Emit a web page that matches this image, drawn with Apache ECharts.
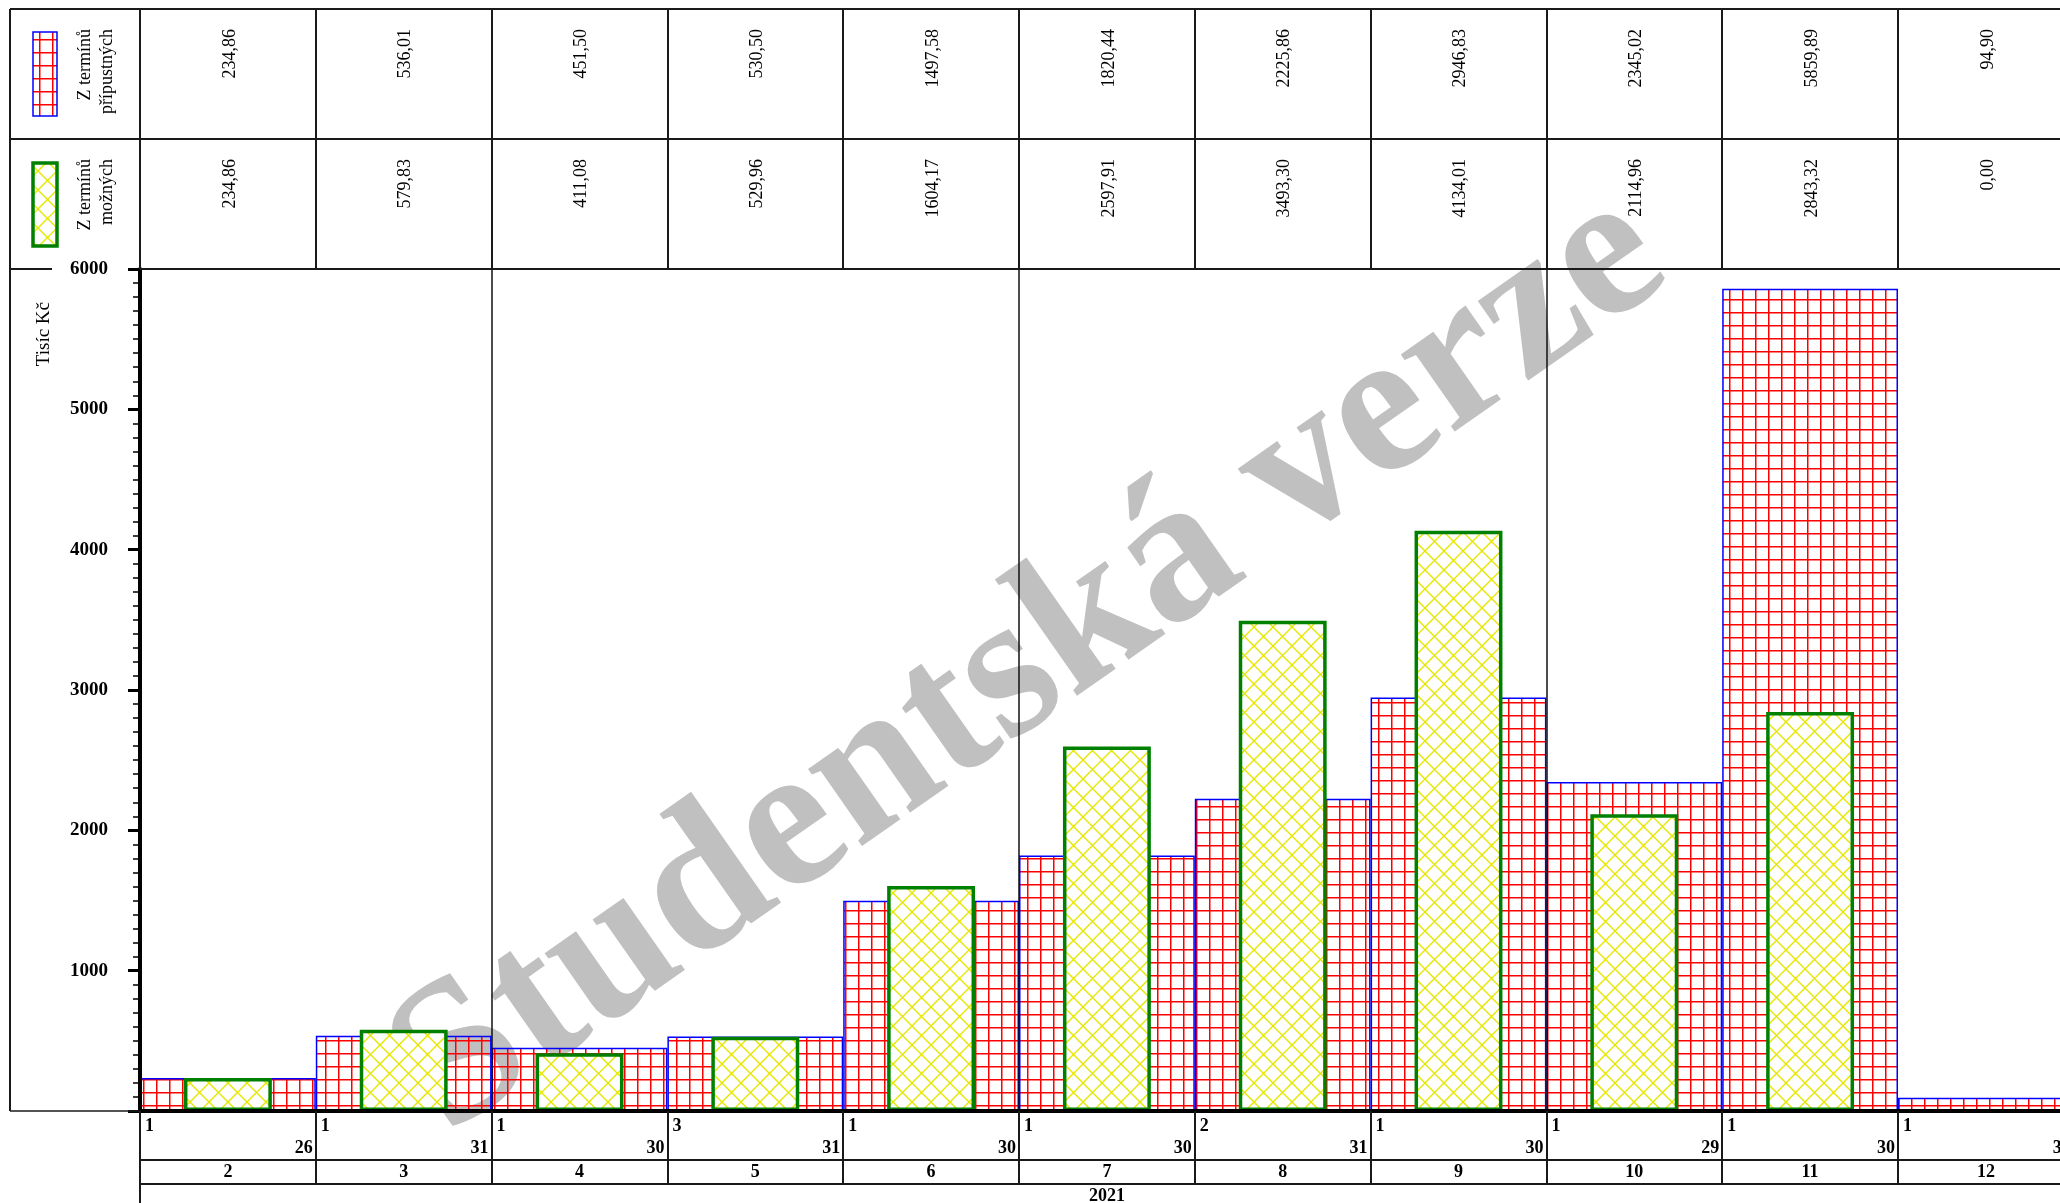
<!DOCTYPE html>
<html><head><meta charset="utf-8">
<script src="https://cdn.jsdelivr.net/npm/echarts@6/dist/echarts.min.js"></script>
<style>html,body{margin:0;padding:0;background:#fff;}#c{width:2060px;height:1203px;}</style>
</head><body><div id="c"></div>
<script>
// ---- data ----
const months = ['2','3','4','5','6','7','8','9','10','11','12'];
const firstDay = ['1','1','1','3','1','1','2','1','1','1','1'];
const lastDay = ['26','31','30','31','30','30','31','30','29','30','31'];
const pripustne = [234.86, 536.01, 451.50, 530.50, 1497.58, 1820.44, 2225.86, 2946.83, 2345.02, 5859.89, 94.90];
const mozne = [234.86, 579.83, 411.08, 529.96, 1604.17, 2597.91, 3493.30, 4134.01, 2114.96, 2843.32, 0.00];
const yearLabel = '2021';
const yMin = 0, yMax = 6000, yStep = 1000;
const seriesNames = ['Z termínů\npřípustných', 'Z termínů\nmožných'];
const yAxisName = 'Tisíc Kč';
const watermark = 'Studentská verze';

// ---- styles / layout ----
const FF = "'Liberation Serif','Times New Roman',serif";
const L = { frameLeft: 10, tableTop: 9, rowH: 130, gridLeft: 140, bandW: 175.8, gridTop: 269, gridH: 842, dayRowH: 49, monthRowH: 24 };

function gridTile() {
  const s = 13, c = document.createElement('canvas'); c.width = s; c.height = s;
  const g = c.getContext('2d'); g.fillStyle = '#ff0000';
  g.fillRect(0, 0, s, 1.5); g.fillRect(0, 0, 1.5, s);
  return c;
}
function diamondTile() {
  const s = 19, c = document.createElement('canvas'); c.width = s; c.height = s;
  const g = c.getContext('2d'); g.fillStyle = '#ffffff'; g.fillRect(0, 0, s, s);
  g.strokeStyle = '#e6e600'; g.lineWidth = 1.4; g.beginPath();
  for (const d of [-s, 0, s]) { g.moveTo(d, 0); g.lineTo(d + s, s); g.moveTo(d + s, 0); g.lineTo(d, s); }
  g.stroke();
  return c;
}
const redFill = { image: gridTile(), repeat: 'repeat' };
const greenFill = { image: diamondTile(), repeat: 'repeat' };
const fmt = v => v.toFixed(2).replace('.', ',');

const chart = echarts.init(document.getElementById('c'), null, { renderer: 'canvas' });
const nCat = months.length;
chart.setOption({
  animation: false,
  backgroundColor: '#ffffff',
  grid: { left: L.gridLeft, top: L.gridTop, width: L.bandW * nCat, height: L.gridH, outerBoundsMode: 'none', containLabel: false },
  xAxis: [
    { type: 'category', data: months, position: 'bottom', z: 3,
      axisLine: { lineStyle: { color: '#000', width: 4 } },
      axisTick: { show: true, interval: 0, length: L.dayRowH + L.monthRowH, lineStyle: { color: '#1a1a1a', width: 2 } },
      axisLabel: { interval: 0, margin: 61, verticalAlign: 'middle', fontFamily: FF, fontWeight: 'bold', fontSize: 18, color: '#000' },
      splitLine: { show: true, interval: (i, v) => (Number(v) - 1) % 3 === 0, lineStyle: { color: '#111', width: 1.5 } } },
    { type: 'category', data: months, show: false },
    { type: 'category', data: months, position: 'top', z: 3,
      axisLine: { lineStyle: { color: '#1a1a1a', width: 2 } },
      axisTick: { show: true, interval: 0, length: 2 * L.rowH, lineStyle: { color: '#1a1a1a', width: 2 } },
      axisLabel: { show: false }, splitLine: { show: false } }
  ],
  yAxis: { type: 'value', min: yMin, max: yMax, interval: yStep, z: 3,
    axisLine: { show: true, lineStyle: { color: '#000', width: 4 } },
    axisTick: { show: true, length: 12, lineStyle: { color: '#000', width: 3 } },
    minorTick: { show: true, splitNumber: 10, length: 7, lineStyle: { color: '#000', width: 1.5 } },
    axisLabel: { margin: 32, showMinLabel: false, formatter: v => String(v), fontFamily: FF, fontWeight: 'bold', fontSize: 19, color: '#000' },
    splitLine: { show: false } },
  series: [
    { type: 'bar', name: seriesNames[0], xAxisIndex: 0, barWidth: '100%', silent: true, data: pripustne,
      itemStyle: { color: redFill, borderColor: '#0000ff', borderWidth: 1.5 } },
    { type: 'bar', name: seriesNames[1], xAxisIndex: 1, barWidth: '50%', silent: true,
      data: mozne.map(v => v === 0 ? { value: v, itemStyle: { borderWidth: 0 } } : v),
      itemStyle: { color: greenFill, borderColor: '#008000', borderWidth: 3.5 } }
  ]
});

// ---- table / annotations positioned via the axis scale ----
const px = m => { const p = chart.convertToPixel({ xAxisIndex: 0 }, m); return typeof p === 'number' ? p : p[0]; };
const centers = months.map(px);
const bw = centers[1] - centers[0];
const W = 2060;
const axisY = L.gridTop + L.gridH;
const els = [];
const line = (x1, y1, x2, y2, w) => els.push({ type: 'line', z: 10, shape: { x1, y1, x2, y2 }, style: { stroke: '#1a1a1a', lineWidth: w || 2 } });
const txt = (x, y, text, opt) => els.push(Object.assign({ type: 'text', z: 11, x, y, style: Object.assign({ text, fill: '#000', font: '18px ' + FF, align: 'center', verticalAlign: 'middle' }, opt.style || {}) }, opt.el || {}));

// frame lines
line(L.frameLeft, L.tableTop, W, L.tableTop);
line(L.frameLeft, L.tableTop + L.rowH, W, L.tableTop + L.rowH);
line(L.frameLeft, L.gridTop, 52, L.gridTop);
line(L.frameLeft, L.tableTop, L.frameLeft, axisY, 2);
line(L.frameLeft, axisY, L.gridLeft, axisY, 1.5);
line(L.gridLeft, axisY + L.dayRowH, W, axisY + L.dayRowH);
line(L.gridLeft, axisY + L.dayRowH + L.monthRowH, W, axisY + L.dayRowH + L.monthRowH);
line(L.gridLeft, axisY + L.dayRowH + L.monthRowH, L.gridLeft, 1203);

// legend icons
els.push({ type: 'rect', z: 10, shape: { x: 33, y: 32, width: 24, height: 84 }, style: { fill: redFill, stroke: '#0000ff', lineWidth: 1.5 } });
els.push({ type: 'rect', z: 10, shape: { x: 33, y: 163, width: 24, height: 83 }, style: { fill: greenFill, stroke: '#008000', lineWidth: 3.5 } });
// legend texts (rotated)
txt(96, L.tableTop + 20, seriesNames[0], { el: { rotation: Math.PI / 2 }, style: { align: 'right', lineHeight: 22 } });
txt(96, L.tableTop + L.rowH + 20, seriesNames[1], { el: { rotation: Math.PI / 2 }, style: { align: 'right', lineHeight: 22 } });
// y axis name
txt(44, 302, yAxisName, { el: { rotation: Math.PI / 2 }, style: { align: 'right', font: '19px ' + FF } });

// values in table
months.forEach((m, i) => {
  txt(centers[i] + 2, L.tableTop + 20, fmt(pripustne[i]), { el: { rotation: Math.PI / 2 }, style: { align: 'right' } });
  txt(centers[i] + 2, L.tableTop + L.rowH + 20, fmt(mozne[i]), { el: { rotation: Math.PI / 2 }, style: { align: 'right' } });
  txt(centers[i] - bw / 2 + 5, axisY + 15, firstDay[i], { style: { align: 'left', font: 'bold 18px ' + FF } });
  txt(centers[i] + bw / 2 - 3, axisY + 37, lastDay[i], { style: { align: 'right', font: 'bold 18px ' + FF } });
});
// year
txt((centers[0] - bw / 2 + centers[nCat - 1] + bw / 2) / 2, 1196, yearLabel, { style: { font: 'bold 18px ' + FF } });

// watermark (behind bars)
els.push({ type: 'text', z: -1, x: 1030, y: 664, rotation: 0.61,
  style: { text: watermark, fill: '#c0c0c0', font: 'bold 205px ' + FF, align: 'center', verticalAlign: 'middle' } });

chart.setOption({ graphic: { elements: els } });
</script>
</body></html>
